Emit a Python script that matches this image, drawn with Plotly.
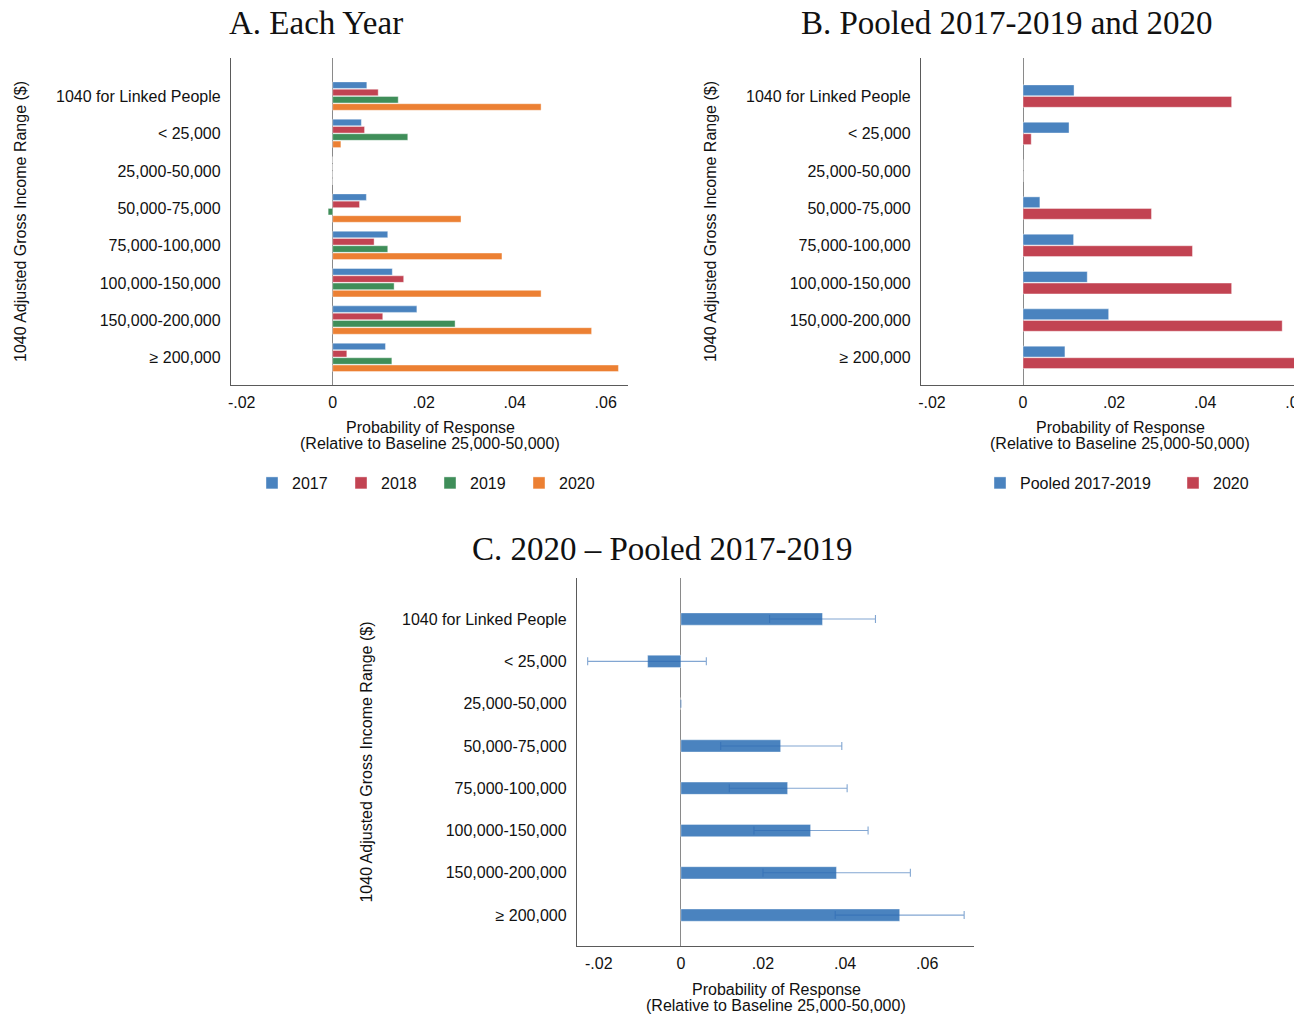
import plotly.graph_objects as go

# ---------------- data ----------------
categories = ["1040 for Linked People", "< 25,000", "25,000-50,000", "50,000-75,000",
              "75,000-100,000", "100,000-150,000", "150,000-200,000", "≥ 200,000"]

years = ["2017", "2018", "2019", "2020"]
v2017 = [0.0075, 0.0063, 0.0, 0.0074, 0.0121, 0.0131, 0.0185, 0.0116]
v2018 = [0.0100, 0.0070, 0.0, 0.0059, 0.0091, 0.0156, 0.0110, 0.0031]
v2019 = [0.0144, 0.0165, 0.0, -0.0010, 0.0121, 0.0135, 0.0269, 0.0130]
v2020 = [0.0458, 0.0018, 0.0, 0.0282, 0.0372, 0.0458, 0.0569, 0.0628]

pooled_names = ["Pooled 2017-2019", "2020"]
pooled_1719 = [0.0112, 0.0101, 0.0, 0.0037, 0.0111, 0.0141, 0.0188, 0.0092]

diff_2020_pooled = [0.0345, -0.0081, 0.0, 0.0243, 0.0260, 0.0316, 0.0379, 0.0533]
ci_low = [0.0216, -0.0227, 0.0, 0.0097, 0.0118, 0.0178, 0.0200, 0.0376]
ci_high = [0.0474, 0.0062, 0.0, 0.0392, 0.0405, 0.0456, 0.0559, 0.0690]

xtick_vals = [-0.02, 0.0, 0.02, 0.04, 0.06]
xtick_text = ["-.02", "0", ".02", ".04", ".06"]

titles = ["A. Each Year", "B. Pooled 2017-2019 and 2020", "C. 2020 – Pooled 2017-2019"]
ytitle = "1040 Adjusted Gross Income Range ($)"
xtitle_lines = ["Probability of Response", "(Relative to Baseline 25,000-50,000)"]

# ---------------- style ----------------
BLUE = "#4A83BF"
RED = "#C24352"
GREEN = "#3F8E59"
ORANGE = "#EC8033"
OFF = 8                     # page body margin of the html page
W, H = 1302 - OFF, 1016 - OFF
SANS = "Liberation Sans, Arial, sans-serif"
SERIF = "Liberation Serif, Times New Roman, serif"
TXT = "#111"
FS = 16


def fx(px):
    return (px - OFF) / W


def fy(py):
    return 1 - (py - OFF) / H


ypos = list(range(len(categories)))
edge = dict(color="rgba(255,255,255,0.5)", width=0.8)

fig = go.Figure()

# Panel A
for i, (name, vals, c) in enumerate(zip(years, [v2017, v2018, v2019, v2020],
                                        [BLUE, RED, GREEN, ORANGE])):
    fig.add_trace(go.Bar(
        x=vals, y=ypos, orientation="h", name=name,
        marker=dict(color=c, line=edge),
        width=0.175, offset=-0.39 + i * 0.195,
        xaxis="x", yaxis="y", legend="legend", hoverinfo="x+name"))

# Panel B
for i, (name, vals, c, lg) in enumerate(zip(pooled_names, [pooled_1719, v2020], [BLUE, RED],
                                            ["legend2", "legend3"])):
    fig.add_trace(go.Bar(
        x=vals, y=ypos, orientation="h", name=name,
        marker=dict(color=c, line=edge),
        width=0.29, offset=-0.31 + i * 0.31,
        xaxis="x2", yaxis="y2", legend=lg, hoverinfo="x+name"))

# Panel C
err_plus = [h - v for h, v in zip(ci_high, diff_2020_pooled)]
err_minus = [v - l for v, l in zip(diff_2020_pooled, ci_low)]
fig.add_trace(go.Bar(
    x=diff_2020_pooled, y=ypos, orientation="h", name=titles[2][3:],
    marker=dict(color=BLUE, line=edge),
    width=0.29, offset=-0.145,
    error_x=dict(type="data", symmetric=False, array=err_plus, arrayminus=err_minus,
                 color="rgba(46,106,180,0.6)", thickness=1.1, width=4),
    xaxis="x3", yaxis="y3", showlegend=False, hoverinfo="x"))


def xax(domain, rng, anchor):
    return dict(domain=domain, range=rng, anchor=anchor, tickmode="array",
                tickvals=xtick_vals, ticktext=xtick_text, showgrid=False,
                zeroline=True, zerolinecolor="#8a8a8a", zerolinewidth=1.2,
                showline=True, linecolor="#5a5a5a", linewidth=1.3, ticks="",
                ticklabelstandoff=3,
                tickfont=dict(family=SANS, size=FS, color=TXT),
                ticklabeloverflow="allow", automargin=False)


def yax(domain, rng, anchor):
    return dict(domain=domain, range=rng, anchor=anchor, tickmode="array",
                tickvals=ypos, ticktext=categories, showgrid=False, zeroline=False,
                showline=True, linecolor="#5a5a5a", linewidth=1.3, ticks="",
                ticklabelstandoff=6,
                tickfont=dict(family=SANS, size=FS, color=TXT), automargin=False,
                title=dict(text=ytitle, font=dict(family=SANS, size=FS, color=TXT), standoff=25))


annotations = []
for t, (cx, cy) in zip(titles, [(316, 23), (1007, 23), (662, 549)]):
    annotations.append(dict(text=t, x=fx(cx), y=fy(cy), xref="paper", yref="paper",
                            xanchor="center", yanchor="middle", showarrow=False,
                            font=dict(family=SERIF, size=33, color=TXT)))
for cx, y1, y2 in [(430, 427, 443), (1120, 427, 443), (776, 989, 1005)]:
    for line, yy in zip(xtitle_lines, [y1, y2]):
        annotations.append(dict(text=line, x=fx(cx), y=fy(yy), xref="paper", yref="paper",
                                xanchor="center", yanchor="middle", showarrow=False,
                                font=dict(family=SANS, size=FS, color=TXT)))

legfont = dict(family=SANS, size=FS, color=TXT)
fig.update_layout(
    width=W, height=H, margin=dict(l=0, r=0, t=0, b=0),
    paper_bgcolor="white", plot_bgcolor="white", barmode="overlay",
    xaxis=xax([fx(231), fx(628)], [-0.02235, 0.0649], "y"),
    yaxis=yax([fy(385), fy(58)], [7.73, -1.03], "x"),
    xaxis2=xax([fx(921), 1.0], [-0.0224, 0.06125], "y2"),
    yaxis2=yax([fy(385), fy(58)], [7.73, -1.03], "x2"),
    xaxis3=xax([fx(577), fx(974)], [-0.0253, 0.0714], "y3"),
    yaxis3=yax([fy(946), fy(578)], [7.73, -0.97], "x3"),
    legend=dict(orientation="h", x=fx(430), xanchor="center", y=fy(483), yanchor="middle",
                font=legfont, entrywidth=44, bgcolor="rgba(0,0,0,0)"),
    legend2=dict(orientation="h", x=fx(980), xanchor="left", y=fy(483), yanchor="middle",
                 font=legfont, bgcolor="rgba(0,0,0,0)"),
    legend3=dict(orientation="h", x=fx(1173), xanchor="left", y=fy(483), yanchor="middle",
                 font=legfont, bgcolor="rgba(0,0,0,0)"),
    annotations=annotations,
)

fig.write_html("out.html")
